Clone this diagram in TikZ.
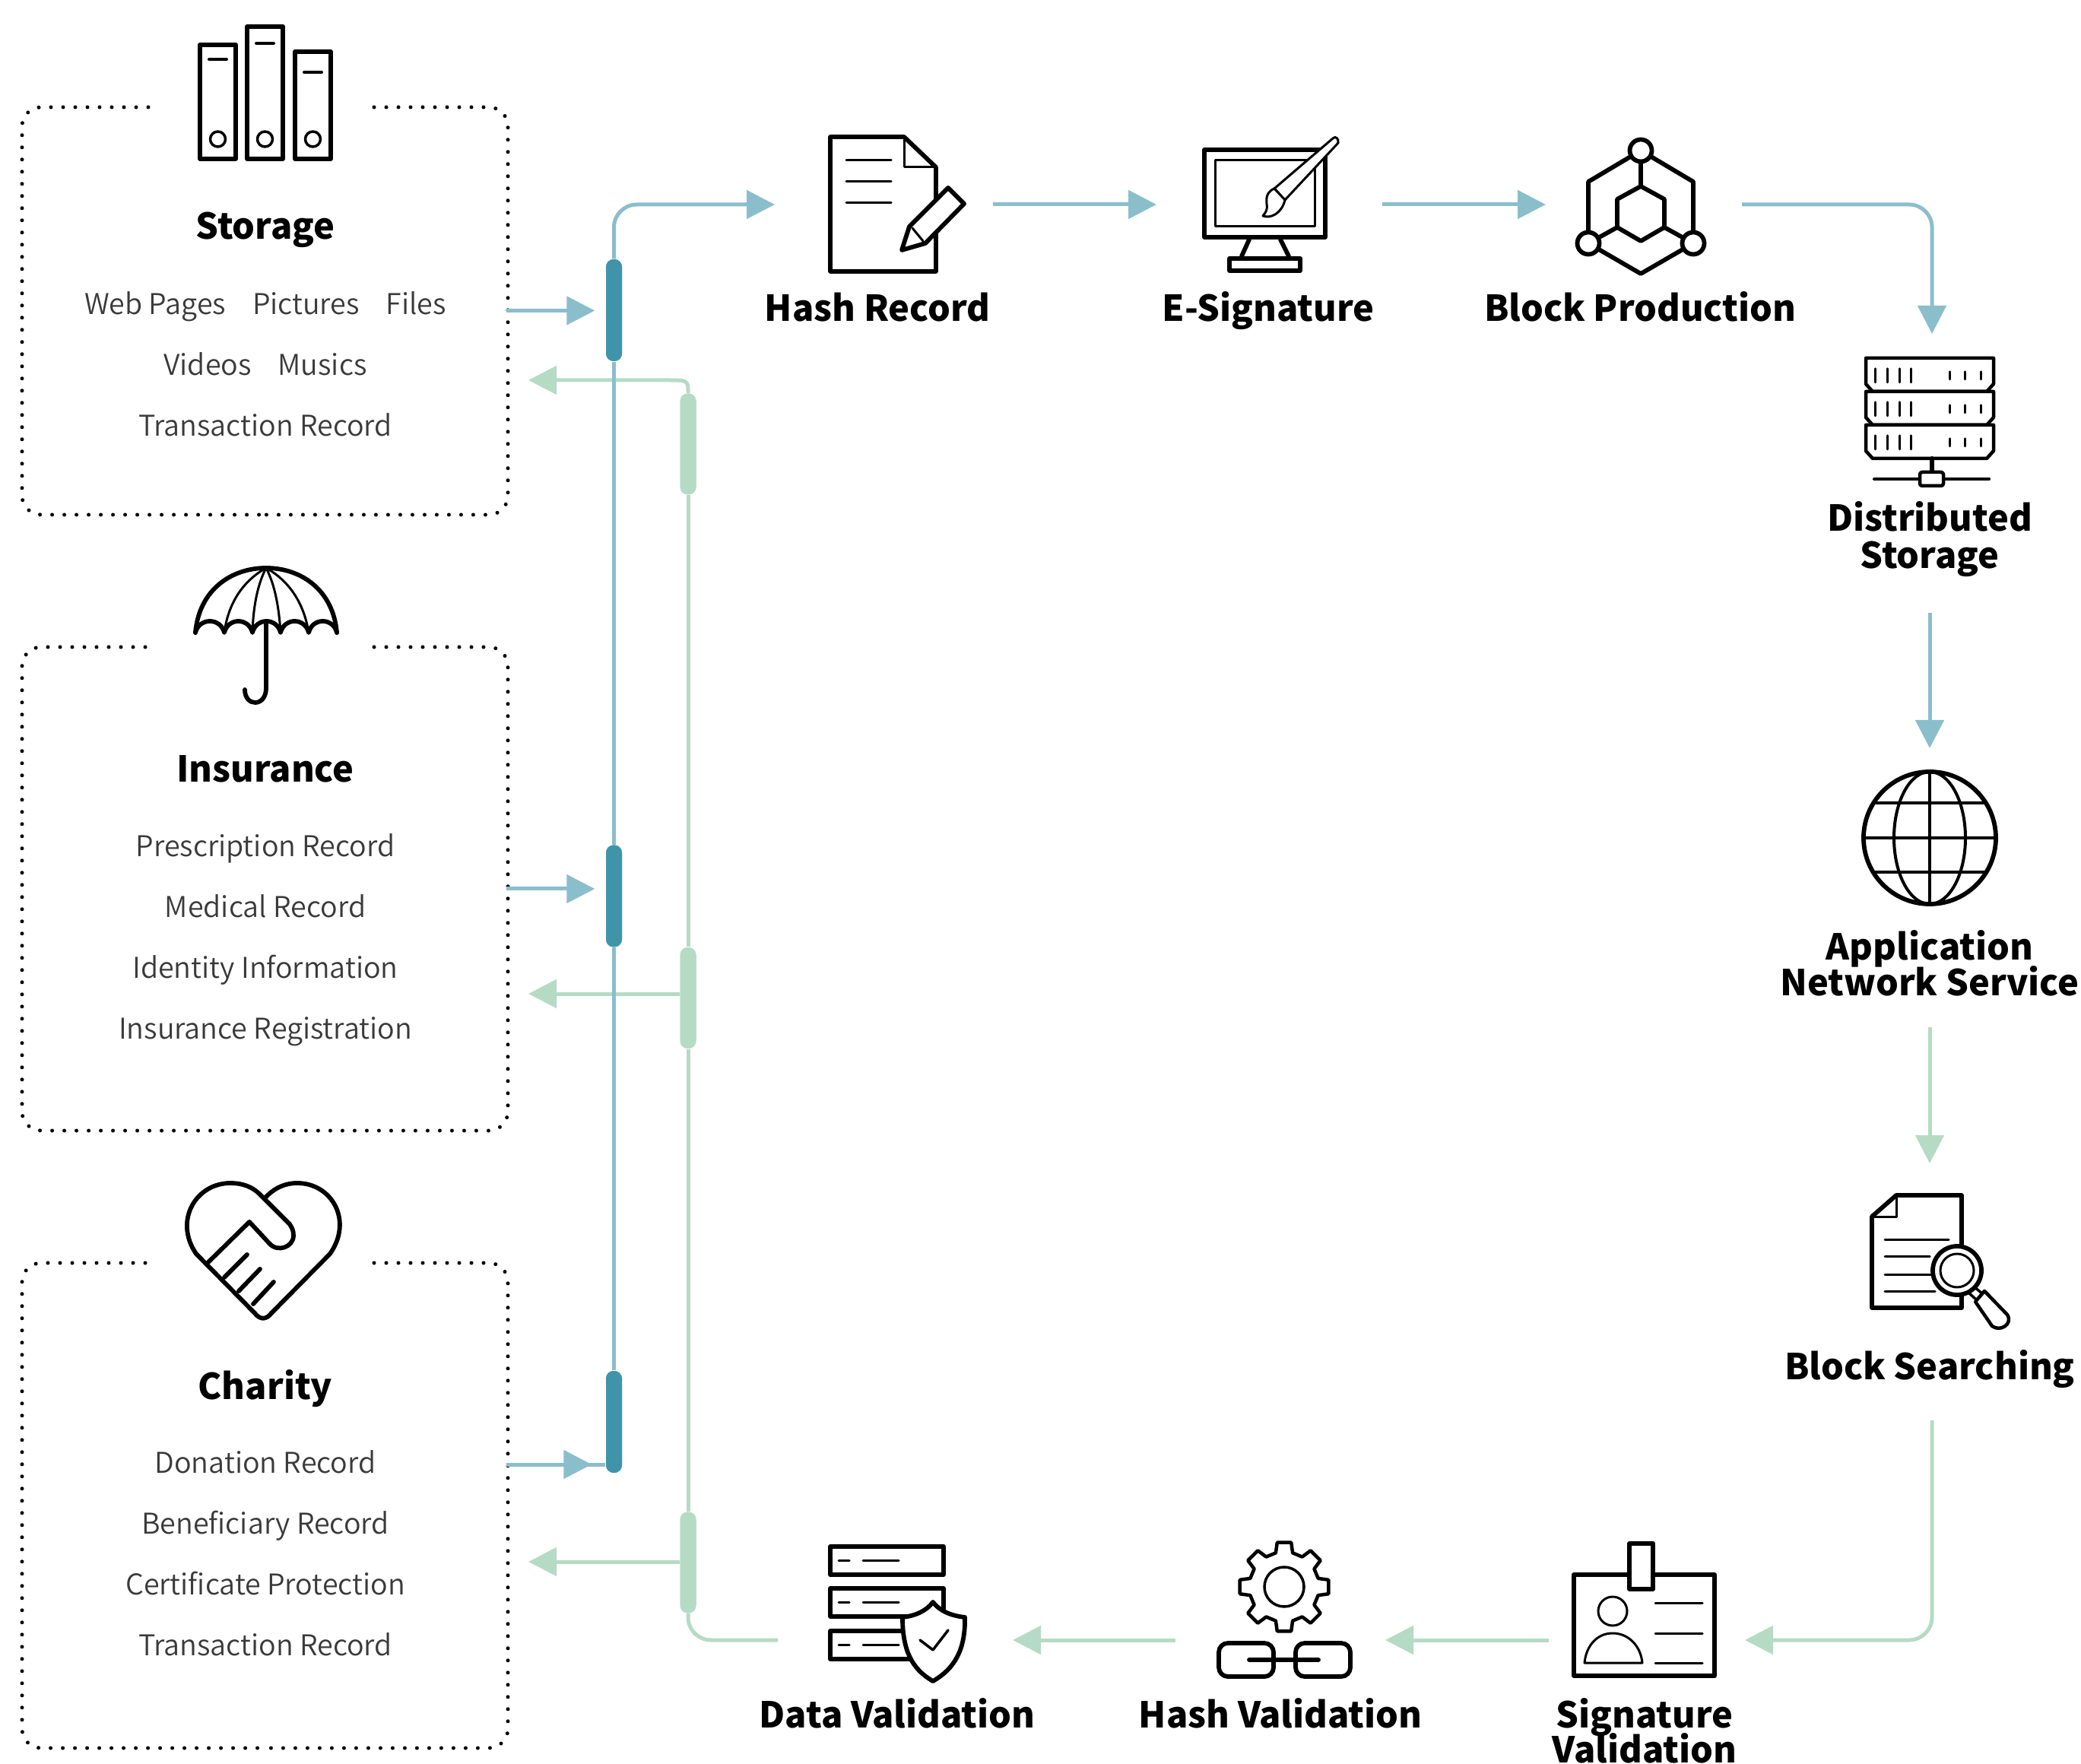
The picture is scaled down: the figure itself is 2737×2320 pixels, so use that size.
\documentclass[tikz,border=0pt]{standalone}
\usepackage{fontspec}
\setmainfont{Noto Sans CJK SC}
\newfontfamily\litefont{Noto Sans CJK SC DemiLight}
\usetikzlibrary{arrows.meta}
\definecolor{lineblue}{HTML}{8BBECB}
\definecolor{barblue}{HTML}{4094A9}
\definecolor{linegreen}{HTML}{B5DBC5}
\definecolor{itemgray}{HTML}{3A3A3A}
\tikzstyle{BlueLine} = [draw=lineblue, line width=0.5mm, rounded corners=3mm]
\tikzstyle{GreenLine} = [draw=linegreen, line width=0.5mm, rounded corners=3mm]
\tikzstyle{BlueArrow} = [BlueLine, -{Triangle[length=3.7mm,width=3.7mm,fill=lineblue]}]
\tikzstyle{GreenArrow} = [GreenLine, -{Triangle[length=3.7mm,width=3.7mm,fill=linegreen]}]

\begin{document}
\begin{tikzpicture}[
x=0.1mm, y=-0.1mm,
title/.style={anchor=base, inner sep=0pt, font=\bfseries\fontsize{13.35pt}{15pt}\selectfont},
stage/.style={anchor=base, inner sep=0pt, align=center, font=\bfseries\fontsize{13.35pt}{13.6pt}\selectfont},
item/.style={anchor=base, inner sep=0pt, text=itemgray, font=\litefont\fontsize{10.7pt}{12pt}\selectfont},
bar/.style={rectangle, rounded corners=1mm, minimum width=2.1mm, inner sep=0pt},
bluebar/.style={bar, fill=barblue, minimum height=13.4mm},
greenbar/.style={bar, fill=linegreen, minimum height=13.3mm},
Dots/.style={draw=black, line width=0.5mm, line cap=round, dash pattern=on 0pt off 1.6mm, rounded corners=2.5mm},
Icon/.style={draw=black, line width=0.58mm, line join=round, line cap=round},
IconThin/.style={draw=black, line width=0.3mm, line join=round, line cap=round}
]
\useasboundingbox (0,0) rectangle (2737,2320);

% groups on the left
\draw[Dots] (195,141) -| (29,677) -- (349,677);
\draw[Dots] (492,141) -| (668,677) -- (349,677);
\draw[Dots] (191,851) -| (29,1487) -- (349,1487);
\draw[Dots] (492,851) -| (668,1487) -- (349,1487);
\draw[Dots] (191,1661) -| (29,2299) -- (349,2299);
\draw[Dots] (492,1661) -| (668,2299) -- (349,2299);

\node[title] (storage) at (349,315) {Storage};
\node[item] (storage1) at (349,414) {Web Pages\hspace{3.5mm}Pictures\hspace{3.5mm}Files};
\node[item] (storage2) at (349,494) {Videos\hspace{3.5mm}Musics};
\node[item] (storage3) at (349,574) {Transaction Record};

\node[title] (insurance) at (349,1029) {Insurance};
\node[item] (insurance1) at (349,1127) {Prescription Record};
\node[item] (insurance2) at (349,1207) {Medical Record};
\node[item] (insurance3) at (349,1286) {Identity Information};
\node[item] (insurance4) at (349,1366) {Insurance Registration};

\node[title] (charity) at (349,1840) {Charity};
\node[item] (charity1) at (349,1937) {Donation Record};
\node[item] (charity2) at (349,2017) {Beneficiary Record};
\node[item] (charity3) at (349,2097) {Certificate Protection};
\node[item] (charity4) at (349,2177) {Transaction Record};

% binders
\foreach \x/\y/\t in {263/59/78, 325/35/57, 388/68/95} {
    \draw[Icon] (\x,\y) rectangle (\x+47,209);
    \draw[Icon, line width=0.4mm] (\x+12,\t) -- ++(23,0);
    \draw[Icon, line width=0.35mm] (\x+23.5,183) circle (10);
}

% umbrella
\draw[Icon] (257,832) .. controls (262,775) and (305,747) .. (350,747) .. controls (395,747) and (438,775) .. (443,832);
\draw[Icon] (257,832) .. controls (262,812) and (290,812) .. (295,832) .. controls (300,812) and (327,812) .. (332,832)
    .. controls (337,812) and (364,812) .. (369,832) .. controls (374,812) and (401,812) .. (406,832)
    .. controls (411,812) and (438,812) .. (443,832);
\draw[IconThin] (350,747) .. controls (318,765) and (300,795) .. (295,832);
\draw[IconThin] (350,747) .. controls (338,770) and (333,800) .. (332,832);
\draw[IconThin] (350,747) .. controls (362,770) and (367,800) .. (369,832);
\draw[IconThin] (350,747) .. controls (382,765) and (400,795) .. (406,832);
\draw[Icon] (350,820) -- (350,905) .. controls (350,930) and (322,930) .. (322,907);

% heart
\draw[Icon] (357,1727) -- (434,1649) .. controls (465,1605) and (436,1556) .. (391,1556) .. controls (372,1556) and (358,1565) .. (348,1576);
\draw[Icon] (274,1660) -- (328,1607) -- (354,1635) .. controls (365,1648) and (386,1640) .. (386,1625)
    .. controls (386,1618) and (384,1615) .. (381,1610) -- (344,1573) .. controls (332,1560) and (318,1556) .. (303,1556)
    .. controls (258,1556) and (228,1605) .. (258,1649) -- (335,1727) .. controls (342,1736) and (350,1736) .. (357,1727);
\draw[Icon] (295,1680) -- (325,1650);
\draw[Icon] (314,1698) -- (342,1669);
\draw[Icon] (333,1715) -- (360,1686);

% connectors of the left part
\coordinate (storagetop) at (1019,269);
\coordinate (storageout) at (666,408.5);
\coordinate (insuranceout) at (666,1169);
\coordinate (charityout) at (666,1926);
\coordinate (storagein) at (695,500);
\coordinate (insurancein) at (695,1307);
\coordinate (charityin) at (695,2054);
\coordinate (dataout) at (1023,2157);

\node[greenbar] (greenstorage) at (905,584) {};
\node[greenbar] (greeninsurance) at (905,1312.5) {};
\node[greenbar] (greencharity) at (905,2055) {};
\node[bluebar] (bluestorage) at (807.5,408) {};
\node[bluebar] (blueinsurance) at (807.5,1178.5) {};
\node[bluebar] (bluecharity) at (807.5,1870) {};

\draw[GreenArrow, sharp corners] (greenstorage.north) .. controls (905,500) .. (877,500) -- (storagein);
\draw[GreenArrow] (greeninsurance.west |- insurancein) -- (insurancein);
\draw[GreenArrow] (greencharity.west |- charityin) -- (charityin);
\draw[GreenLine] (greenstorage.south) -- (greeninsurance.north);
\draw[GreenLine] (greeninsurance.south) -- (greencharity.north);
\draw[GreenLine] (dataout) -| (greencharity.south);

\draw[BlueArrow] (bluestorage.north) |- (storagetop);
\draw[BlueLine] (bluestorage.south) -- (blueinsurance.north);
\draw[BlueLine] (blueinsurance.south) -- (bluecharity.north);
\draw[BlueArrow, shorten >=1.4mm] (storageout) -- (bluestorage.west |- storageout);
\draw[BlueArrow, shorten >=1.4mm] (insuranceout) -- (blueinsurance.west |- insuranceout);
\draw[BlueLine] (charityout) -- (bluecharity.west |- charityout);
\draw[BlueArrow, shorten >=1.8mm] (charityout) -- (bluecharity.west |- charityout);

\node[greenbar] at (greenstorage) {};
\node[greenbar] at (greeninsurance) {};
\node[greenbar] at (greencharity) {};
\node[bluebar] at (bluestorage) {};
\node[bluebar] at (blueinsurance) {};
\node[bluebar] at (bluecharity) {};

% hash record
\draw[Icon] (1189,180) -- (1092,180) -- (1092,357) -- (1231,357) -- (1231,220) -- cycle;
\draw[IconThin] (1189,180) -- (1189,220) -- (1231,220);
\foreach \y in {211,239,267} \draw[IconThin] (1113,\y) -- (1172,\y);
\draw[Icon, fill=white] (1247,247) -- (1268,268) -- (1217,320) -- (1186,329) -- (1196,298) -- cycle;
\draw[IconThin] (1200,300) -- (1214,317);

% e-signature
\draw[Icon] (1584,197) rectangle (1743,312);
\draw[IconThin] (1598,211) rectangle (1729,298);
\draw[Icon] (1643,315) -- (1633,337);
\draw[Icon] (1684,315) -- (1695,337);
\draw[Icon] (1617,340) rectangle (1710,356);
\draw[IconThin, fill=white] (1676,248) -- (1753,182) .. controls (1757,178) and (1761,183) .. (1760,188) -- (1690,263) -- cycle;
\draw[IconThin, fill=white] (1676,248) .. controls (1660,255) and (1668,270) .. (1666,275) .. controls (1665,280) and (1662,282) .. (1661,284)
    .. controls (1672,288) and (1686,280) .. (1690,263) -- cycle;

% block production
\draw[Icon] (2089,320) -- (2089,239) -- (2158,198) -- (2227,239) -- (2227,320) -- (2158,360) -- cycle;
\draw[Icon] (2158,245) -- (2189,262) -- (2189,299) -- (2158,317) -- (2127,299) -- (2127,262) -- cycle;
\draw[Icon] (2158,198) -- (2158,245);
\draw[Icon] (2189,299) -- (2227,320);
\draw[Icon] (2127,299) -- (2089,320);
\foreach \x/\y in {2158/198, 2089/320, 2227/320} \draw[Icon, fill=white] (\x,\y) circle (14.5);

% distributed storage
\foreach \d in {0,44,88} {
    \draw[Icon, fill=white, line width=0.45mm] (2454,471+\d) -- (2622,471+\d) -- (2622,505+\d) -- (2613,515+\d) -- (2463,515+\d) -- (2454,505+\d) -- cycle;
    \foreach \x in {2466,2482,2498,2513} \draw[IconThin] (\x,485+\d) -- (\x,503+\d);
    \foreach \x in {2564,2584,2605} \draw[IconThin] (\x,489+\d) -- (\x,499+\d);
}
\draw[Icon] (2541,603) -- (2541,620);
\draw[Icon, line width=0.4mm] (2465,630) -- (2616,630);
\draw[Icon, fill=white, line width=0.45mm, rounded corners=0.3mm] (2525,621) rectangle (2556,639);

% globe
\draw[Icon] (2538,1102) circle (87);
\draw[IconThin, line width=0.4mm] (2538,1102) ellipse (47 and 87);
\draw[IconThin, line width=0.4mm] (2538,1015) -- (2538,1189);
\draw[IconThin, line width=0.4mm] (2451,1102) -- (2625,1102);
\draw[IconThin, line width=0.4mm] (2464,1056) -- (2612,1056);
\draw[IconThin, line width=0.4mm] (2464,1147) -- (2612,1147);

% block searching
\draw[Icon] (2494,1572) -- (2580,1572) -- (2580,1720) -- (2462,1720) -- (2462,1600) -- cycle;
\draw[IconThin] (2494,1572) -- (2494,1600) -- (2462,1600);
\foreach \y/\x in {1630/2563, 1652/2538, 1676/2540, 1698/2545} \draw[IconThin] (2479,\y) -- (\x,\y);
\draw[IconThin, line width=0.35mm, fill=white] (2589,1700) -- (2596,1692) -- (2608,1702) -- (2600,1710) -- cycle;
\draw[Icon, fill=white] (2574,1671) circle (32);
\draw[IconThin] (2574,1671) circle (22);
\draw[IconThin, line width=0.45mm, fill=white] (2598,1712) -- (2610,1698) -- (2640,1729) .. controls (2648,1742) and (2630,1752) .. (2620,1744) -- cycle;

% data validation
\foreach \y in {2034,2089,2145} {
    \draw[Icon] (1092,\y) rectangle (1241,\y+37);
    \draw[IconThin] (1103,\y+18) -- (1117,\y+18);
    \draw[IconThin] (1135,\y+18) -- (1182,\y+18);
}
\draw[Icon, fill=white] (1227,2107) .. controls (1235,2118) and (1250,2125) .. (1269,2127) .. controls (1270,2170) and (1255,2195) .. (1227,2211)
    .. controls (1199,2195) and (1187,2170) .. (1187,2127) .. controls (1205,2125) and (1219,2118) .. (1227,2107) -- cycle;
\draw[IconThin, line width=0.35mm] (1210,2157) -- (1227,2170) -- (1247,2144);

% hash validation
\begin{scope}[shift={(1689,2087)}]
    \draw[Icon, line width=0.45mm] (-14:46) foreach \a in {0,45,...,315} { -- (\a-14:46) -- (\a-9:59) -- (\a+9:59) -- (\a+14:46) } -- cycle;
    \draw[IconThin, line width=0.35mm] (0,0) circle (26);
\end{scope}
\draw[Icon, rounded corners=1.2mm] (1603,2161) rectangle (1675,2205);
\draw[Icon, rounded corners=1.2mm] (1704,2161) rectangle (1776,2205);
\draw[Icon] (1643,2183) -- (1734,2183);

% signature validation
\draw[Icon] (2070,2071) rectangle (2255,2204);
\draw[Icon, fill=white] (2143,2030) rectangle (2174,2090);
\draw[IconThin] (2121,2119) circle (19);
\draw[IconThin] (2084,2187) .. controls (2086,2165) and (2100,2148) .. (2121,2148) .. controls (2142,2148) and (2158,2165) .. (2160,2187) -- cycle;
\foreach \y in {2108,2148,2187} \draw[IconThin] (2177,\y) -- (2239,\y);

% stages
\node[stage] (hashrecord) at (1154,423) {Hash Record};
\node[stage] (esignature) at (1668,423) {E-Signature};
\node[stage] (blockproduction) at (2157,423) {Block Production};
\node[stage] (distributed) at (2538,699) {Distributed};
\node[stage] (distributedb) at (2538,748) {Storage};
\node[stage] (application) at (2538,1263) {Application};
\node[stage] (applicationb) at (2538,1310) {Network Service};
\node[stage] (blocksearching) at (2538,1814) {Block Searching};
\node[stage] (signature) at (2163,2272) {Signature};
\node[stage] (signatureb) at (2163,2318) {Validation};
\node[stage] (hashvalidation) at (1684,2272) {Hash Validation};
\node[stage] (datavalidation) at (1180,2272) {Data Validation};

% connectors of the stages
\coordinate (hashout) at (1306,269);
\coordinate (signin) at (1521,269);
\coordinate (signout) at (1818,269);
\coordinate (blockin) at (2033,269);
\coordinate (blockout) at (2291,269);
\coordinate (storein) at (2541,439);
\coordinate (storeout) at (2538,806);
\coordinate (netin) at (2538,984);
\coordinate (netout) at (2538,1351);
\coordinate (searchin) at (2538,1530);
\coordinate (searchout) at (2541,1868);
\coordinate (sigin) at (2295,2157);
\coordinate (sigout) at (2037,2157);
\coordinate (hashvin) at (1822,2157);
\coordinate (hashvout) at (1546,2157);
\coordinate (datain) at (1332,2157);

\draw[BlueArrow] (hashout) -- (signin);
\draw[BlueArrow] (signout) -- (blockin);
\draw[BlueArrow] (blockout) -| (storein);
\draw[BlueArrow] (storeout) -- (netin);
\draw[GreenArrow] (netout) -- (searchin);
\draw[GreenArrow] (searchout) |- (sigin);
\draw[GreenArrow] (sigout) -- (hashvin);
\draw[GreenArrow] (hashvout) -- (datain);

\end{tikzpicture}
\end{document}
